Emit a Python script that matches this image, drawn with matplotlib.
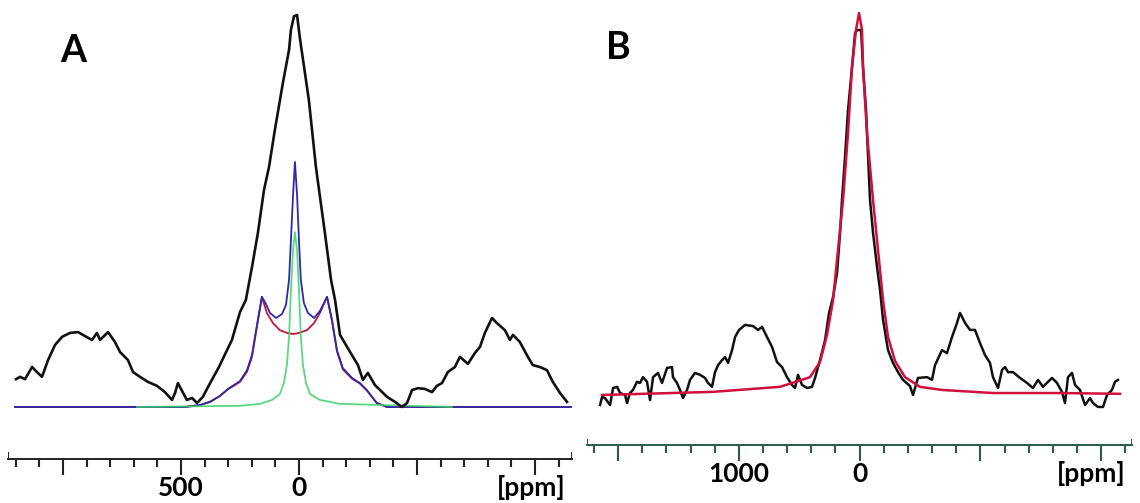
import matplotlib
matplotlib.use("Agg")
import matplotlib.pyplot as plt
from matplotlib.ticker import FixedLocator, FixedFormatter

plt.rcParams['font.family'] = ['Lato', 'DejaVu Sans']

#____Panel A : experimental spectrum (black) + fit components
a_exp_ppm = [1199, 1182, 1161, 1131, 1110, 1089, 1063, 1034, 1004, 970, 936, 907, 877, 856, 843,
             809, 780, 758, 725, 703, 674, 640, 602, 568, 538, 525, 513, 491, 475, 453, 432, 407,
             381, 339, 309, 284, 250, 225, 199, 174, 148, 127, 102, 68, 42, 34, 21, 8, -4, -42,
             -72, -110, -136, -153, -174, -212, -250, -271, -292, -322, -373, -407, -436, -458,
             -479, -504, -534, -564, -585, -606, -631, -661, -682, -716, -746, -767, -788, -818,
             -839, -873, -894, -907, -936, -970, -991, -1021, -1051, -1076, -1106, -1136]
a_exp_int = [7.1, 7.7, 7.1, 10.2, 8.9, 7.7, 12.0, 15.8, 17.9, 18.9, 19.1, 18.1, 17.1, 18.9, 17.1,
             19.1, 16.6, 14.0, 12.0, 8.9, 7.7, 6.4, 5.4, 3.8, 1.8, 3.6, 6.1, 3.6, 1.8, 2.3, 1.0, 2.6,
             5.6, 10.2, 14.0, 17.1, 24.2, 27.3, 35.7, 44.4, 55.4, 61.2, 70.7, 82.7, 91.1, 96.2, 99.7,
             100, 94.1, 78.3, 61.2, 44.4, 32.4, 27.3, 18.4, 14.5, 10.7, 6.9, 8.7, 5.6, 2.6, 1.3, 0,
             1.0, 4.3, 4.8, 4.6, 3.8, 5.4, 6.1, 8.9, 10.2, 12.8, 11.0, 13.8, 15.3, 18.9, 22.7, 21.4,
             19.6, 17.1, 18.4, 16.6, 12.8, 10.7, 10.2, 9.4, 6.4, 3.6, 1.3]

# total fit (blue)
a_fit_ppm = [1203, 483, 419, 377, 335, 301, 250, 220, 199, 178, 157, 140, 123, 97, 72, 55, 42, 34,
             25, 17, 8, 0, -8, -21, -38, -64, -89, -106, -119, -140, -161, -186, -225, -258, -288,
             -330, -373, -1157]
a_fit_int = [0, 0, 0.5, 1.3, 2.8, 4.6, 6.6, 9.4, 13.3, 20.9, 28.1, 26.3, 24.0, 22.7, 23.7, 26.0,
             32.4, 42.6, 54.1, 62.5, 54.1, 42.6, 32.4, 26.5, 24.0, 22.7, 24.5, 26.5, 28.1, 22.2,
             14.5, 9.9, 7.4, 6.1, 4.3, 1.0, 0, 0]

# quadrupolar powder pattern (red)
a_quad_ppm = [1203, 483, 419, 377, 335, 301, 250, 220, 199, 178, 157, 136, 110, 81, 51, 25, 0,
              -34, -64, -89, -119, -140, -161, -186, -225, -258, -288, -330, -373, -1157]
a_quad_int = [0, 0, 0.5, 1.3, 2.8, 4.5, 6.4, 9.0, 12.8, 20.5, 28.1, 24.0, 21.4, 19.6, 18.9, 18.6,
              18.9, 19.6, 21.4, 24.0, 28.1, 22.0, 14.2, 9.6, 7.2, 6.0, 4.2, 1.0, 0, 0]

# narrow component (green)
a_narrow_ppm = [686, 250, 165, 114, 81, 64, 51, 42, 34, 25, 17, 8, 0, -8, -17, -30, -47, -89,
                -174, -648]
a_narrow_int = [0, 0.3, 0.8, 1.8, 3.3, 6.1, 10.7, 17.9, 29.8, 40.1, 44.6, 40.1, 29.8, 17.9, 10.7,
                6.1, 3.3, 1.8, 0.8, 0]

a_major = [1000, 500, 0, -500, -1000]
a_minor = [1200, 1100, 900, 800, 700, 600, 400, 300, 200, 100, -100, -200, -300, -400, -600,
           -700, -800, -900, -1100]
a_labels = ['', '500', '0', '', '']

#____Panel B : experimental spectrum (black) + Lorentzian fit (red)
b_exp_ppm = [2149, 2132, 2108, 2066, 2041, 2008, 1983, 1942, 1925, 1901, 1876, 1843, 1818, 1793,
             1760, 1735, 1710, 1669, 1636, 1594, 1553, 1545, 1512, 1487, 1462, 1429, 1404, 1363,
             1321, 1280, 1255, 1222, 1197, 1172, 1139, 1114, 1089, 1056, 1031, 998, 949, 882, 841,
             808, 767, 725, 684, 642, 601, 560, 535, 510, 477, 435, 394, 369, 328, 286, 253, 220,
             187, 162, 146, 121, 96, 63, 38, 22, -12, -28, -53, -70, -86, -111, -144, -169, -194,
             -235, -276, -318, -359, -417, -442, -483, -558, -599, -624, -682, -723, -765, -806,
             -831, -873, -914, -955, -997, -1038, -1079, -1104, -1146, -1179, -1204, -1228, -1270,
             -1328, -1386, -1435, -1477, -1518, -1560, -1593, -1634, -1675, -1700, -1725, -1758,
             -1783, -1824, -1866, -1907, -1932, -1973, -2015, -2048, -2089, -2114, -2139]
b_exp_int = [-1.3, 0.8, 0.5, -1.3, 3.1, 3.4, 1.8, 1.3, -0.8, 1.8, 2.6, 4.7, 4.4, 5.9, 4.7, 0, 5.9,
             7.0, 4.4, 8.3, 8.5, 5.9, 4.4, 2.6, 0.5, 2.6, 5.2, 7.0, 6.5, 5.7, 4.4, 3.4, 7.2, 9.0,
             10.3, 11.1, 9.6, 12.9, 16.3, 18.1, 19.4, 19.1, 18.1, 18.9, 16.3, 13.7, 9.8, 8.5, 5.9,
             3.9, 3.1, 6.5, 3.9, 3.1, 3.4, 5.7, 10.3, 15.5, 22.5, 26.6, 32.8, 43.2, 51.7, 62.8,
             74.9, 86.0, 94.8, 95.6, 95.6, 86.0, 74.9, 62.8, 51.7, 43.2, 34.4, 28.4, 20.7, 12.9,
             9.6, 7.2, 5.2, 3.6, 1.3, 5.7, 5.9, 5.2, 9.0, 12.9, 12.1, 16.3, 19.9, 22.5, 19.9, 18.1,
             18.1, 14.7, 11.6, 9.6, 5.9, 3.1, 7.8, 8.5, 7.2, 7.2, 5.7, 4.4, 3.1, 5.2, 3.4, 4.7, 5.7,
             4.4, 2.1, -0.8, 5.9, 7.0, 3.9, 2.6, -1.3, 0.5, -0.8, -1.8, -1.8, 1.3, 2.6, 4.7, 5.2]

b_fit_ppm = [2132, 1214, 659, 411, 328, 270, 220, 179, 137, 96, 63, 30, 5, -20, -28, -61, -111,
             -152, -194, -235, -293, -376, -500, -682, -1104, -1659, -2156]
b_fit_int = [1.3, 2.1, 3.4, 5.9, 9.8, 16.8, 25.8, 38.8, 51.7, 69.0, 86.0, 95.6, 100, 95.6, 86.0,
             69.0, 51.7, 38.8, 25.8, 16.3, 10.1, 5.9, 3.4, 2.6, 1.8, 1.8, 1.6]

b_major = [2000, 1000, 0, -1000, -2000]
b_minor = [2200, 1800, 1600, 1400, 1200, 800, 600, 400, 200, -200, -400, -600, -800, -1200,
           -1400, -1600, -1800, -2200]
b_labels = ['', '1000', '0', '', '']


def setup_axis(ax, xlim, ylim, major, minor, labels, color):
    ax.set_xlim(*xlim)
    ax.set_ylim(*ylim)
    for side in ['top', 'left', 'right']:
        ax.spines[side].set_visible(False)
    ax.spines['bottom'].set_color(color)
    ax.spines['bottom'].set_linewidth(1.4)
    ax.set_yticks([])
    ax.xaxis.set_major_locator(FixedLocator(major))
    ax.xaxis.set_major_formatter(FixedFormatter(labels))
    ax.xaxis.set_minor_locator(FixedLocator(minor))
    ax.tick_params(axis='x', which='major', direction='out', length=11.5, width=1.5,
                   color=color, pad=1, labelsize=19)
    ax.tick_params(axis='x', which='minor', direction='out', length=6, width=1.5, color=color)
    for lab in ax.get_xticklabels():
        lab.set_fontweight('bold')
    # little upturned caps at both ends of the scale
    ax.axvline(xlim[0], ymin=0, ymax=0.012, color=color, lw=1.4)
    ax.axvline(xlim[1], ymin=0, ymax=0.012, color=color, lw=1.4)
    ax.text(0.988, -0.035, '[ppm]', transform=ax.transAxes, ha='right', va='top',
            fontsize=19, fontweight='bold')


fig = plt.figure(figsize=(11.4, 5.03), dpi=100)

axA = fig.add_axes([0.00702, 0.08748, 0.4947, 0.9125])
axA.plot(a_quad_ppm, a_quad_int, color='#c8143c', lw=1.3)
axA.plot(a_fit_ppm, a_fit_int, color='#2b2ba6', lw=1.3)
axA.plot(a_narrow_ppm, a_narrow_int, color='#3fd26a', lw=1.3, alpha=0.85)
axA.plot(a_exp_ppm, a_exp_int, color='#111111', lw=1.9)
setup_axis(axA, (1233, -1157), (-13.27, 103.83), a_major, a_minor, a_labels, '#222222')

axB = fig.add_axes([0.5149, 0.1153, 0.4781, 0.8847])
axB.plot(b_exp_ppm, b_exp_int, color='#111111', lw=1.8)
axB.plot(b_fit_ppm, b_fit_int, color='#d0103c', lw=1.8)
setup_axis(axB, (2257, -2255), (-11.63, 103.36), b_major, b_minor, b_labels, '#2d5a4a')

fig.text(0.0526, 0.877, 'A', fontsize=27, fontweight='bold', va='baseline')
fig.text(0.532, 0.883, 'B', fontsize=27, fontweight='bold', va='baseline')

fig.savefig('out.png', dpi=100)
